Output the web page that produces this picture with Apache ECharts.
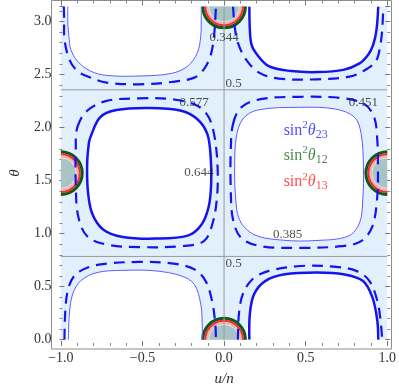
<!DOCTYPE html>
<html>
<head>
<meta charset="utf-8">
<script src="https://cdn.jsdelivr.net/npm/echarts@6/dist/echarts.min.js"></script>
<style>
  html, body { margin: 0; padding: 0; background: #fff; }
  #chart { width: 399px; height: 392px; }
</style>
</head>
<body>
<div id="chart"></div>
<script>
// contour curves of sin^2(theta23) as [u/n, theta]
const tlThin = [[-0.958, 3.1416], [-0.957, 2.969], [-0.949, 2.829], [-0.939, 2.736], [-0.899, 2.626], [-0.819, 2.533], [-0.72, 2.492], [-0.523, 2.486], [-0.322, 2.511], [-0.223, 2.579], [-0.164, 2.705], [-0.143, 2.86], [-0.14, 3.016], [-0.14, 3.1416]]
const tlDash = [[-0.982, 3.1416], [-0.98, 3.016], [-0.978, 2.829], [-0.948, 2.642], [-0.899, 2.533], [-0.819, 2.471], [-0.72, 2.424], [-0.521, 2.408], [-0.322, 2.43], [-0.183, 2.471], [-0.124, 2.549], [-0.084, 2.673], [-0.064, 2.829], [-0.054, 3.016], [-0.05, 3.1416]]
const trThick = [[0.155, 3.1416], [0.158, 2.922], [0.168, 2.782], [0.194, 2.705], [0.274, 2.579], [0.413, 2.533], [0.572, 2.523], [0.731, 2.544], [0.83, 2.605], [0.884, 2.689], [0.914, 2.782], [0.934, 2.922], [0.945, 3.1416]]
const trDash = [[0.055, 3.1416], [0.065, 2.953], [0.085, 2.798], [0.134, 2.642], [0.214, 2.518], [0.334, 2.462], [0.572, 2.455], [0.77, 2.48], [0.85, 2.53], [0.93, 2.626], [0.958, 2.782], [0.969, 2.922], [0.976, 3.1416]]
const blThin = [[-0.954, 0], [-0.948, 0.243], [-0.928, 0.43], [-0.879, 0.555], [-0.779, 0.633], [-0.62, 0.654], [-0.422, 0.649], [-0.263, 0.602], [-0.183, 0.523], [-0.143, 0.336], [-0.134, 0.15], [-0.134, 0]]
const blDash = [[-0.978, 0], [-0.974, 0.243], [-0.958, 0.462], [-0.918, 0.602], [-0.839, 0.679], [-0.72, 0.717], [-0.521, 0.733], [-0.322, 0.72], [-0.183, 0.664], [-0.114, 0.555], [-0.074, 0.368], [-0.054, 0.15], [-0.05, 0]]
const brThick = [[0.155, 0], [0.158, 0.243], [0.184, 0.43], [0.254, 0.555], [0.373, 0.617], [0.572, 0.633], [0.731, 0.617], [0.85, 0.555], [0.909, 0.399], [0.939, 0.181], [0.945, 0]]
const brDash = [[0.085, 0], [0.091, 0.243], [0.115, 0.43], [0.174, 0.57], [0.274, 0.649], [0.472, 0.695], [0.671, 0.689], [0.81, 0.649], [0.89, 0.555], [0.939, 0.368], [0.959, 0.181], [0.969, 0]]
const mlThick = [[-0.819, 1.91], [-0.76, 2.097], [-0.66, 2.165], [-0.462, 2.184], [-0.263, 2.159], [-0.165, 2.081], [-0.103, 1.941], [-0.082, 1.723], [-0.079, 1.474], [-0.094, 1.256], [-0.139, 1.084], [-0.223, 0.981], [-0.422, 0.953], [-0.62, 0.969], [-0.739, 1.037], [-0.809, 1.193], [-0.835, 1.411], [-0.839, 1.661], [-0.829, 1.848]]
const mlDash = [[-0.899, 2.004], [-0.839, 2.159], [-0.72, 2.252], [-0.521, 2.275], [-0.322, 2.268], [-0.164, 2.206], [-0.094, 2.097], [-0.058, 1.91], [-0.04, 1.63], [-0.043, 1.35], [-0.07, 1.1], [-0.124, 0.929], [-0.263, 0.882], [-0.521, 0.873], [-0.72, 0.897], [-0.839, 0.976], [-0.894, 1.163], [-0.909, 1.474], [-0.909, 1.785]]
const mrThin = [[0.075, 1.91], [0.115, 2.081], [0.204, 2.165], [0.462, 2.191], [0.681, 2.175], [0.8, 2.097], [0.84, 1.941], [0.854, 1.63], [0.85, 1.318], [0.83, 1.1], [0.76, 0.976], [0.562, 0.935], [0.363, 0.938], [0.184, 0.991], [0.095, 1.131], [0.069, 1.38], [0.065, 1.661]]
const mrDash = [[0.055, 2.035], [0.105, 2.191], [0.224, 2.268], [0.462, 2.29], [0.721, 2.278], [0.86, 2.221], [0.92, 2.097], [0.939, 1.879], [0.943, 1.63], [0.939, 1.35], [0.909, 1.069], [0.84, 0.929], [0.721, 0.882], [0.462, 0.866], [0.224, 0.882], [0.105, 0.96], [0.055, 1.131], [0.041, 1.411], [0.041, 1.785]]

// sin^2(theta12), sin^2(theta13) allowed spots
const spotCenters = [[0, 0], [0, 3.1416], [-1, 1.5708], [1, 1.5708]]
const spotRadius = 0.14

// sin^2(theta23) = 0.5 lines
const halfTheta = [0.785, 2.356]
const halfU = [0]

const contourLabels = ['0.344', '0.5', '0.577', '0.451', '0.644', '0.385', '0.5']
const labelAt = [[0, 2.848], [0.058, 2.418], [-0.183, 2.237], [0.854, 2.237], [-0.154, 1.577], [0.389, 0.991], [0.058, 0.717]]
const legendSubs = ['23', '12', '13']
const legendColors = ['#2020ff', '#1e6b1e', '#ff2020']

const serif = 'Liberation Serif, Times New Roman, serif'
const blue = '#1414f0'

const chart = echarts.init(document.getElementById('chart'))

function clipRect(params) {
  const c = params.coordSys
  return { type: 'rect', shape: { x: c.x, y: c.y, width: c.width, height: c.height } }
}

// one custom series per line style, drawn through the axes with api.coord
function curveSeries(curves, closed, style, z) {
  return {
    type: 'custom',
    coordinateSystem: 'cartesian2d',
    xAxisIndex: 0,
    yAxisIndex: 0,
    z: z,
    silent: true,
    data: curves.map(c => c[0]),
    renderItem: function (params, api) {
      const i = params.dataIndex
      const pts = curves[i].map(p => api.coord(p))
      return {
        type: 'group',
        clipPath: clipRect(params),
        children: [{
          type: closed[i] ? 'polygon' : 'polyline',
          shape: { points: pts, smooth: 0.35 },
          style: Object.assign({ fill: 'none' }, style)
        }]
      }
    }
  }
}

const fillCurves = [tlThin, trThick, blThin, brThick, mlThick, mrThin]

function frameAxis(extra) {
  return Object.assign({
    gridIndex: 0, type: 'value', interval: 0.5,
    axisLine: { show: false, onZero: false },
    axisTick: { inside: true, length: 5, lineStyle: { color: '#777' } },
    minorTick: { show: true, splitNumber: 5, length: 3, lineStyle: { color: '#888' } },
    splitLine: { show: false }
  }, extra)
}

const option = {
  animation: false,
  grid: [
    { left: 53, right: 10.5, top: 6.5, bottom: 49.3, show: true, backgroundColor: '#e2f0fd', borderWidth: 0 },
    { left: 51.5, right: 7.5, top: 0.5, bottom: 43, show: true, backgroundColor: 'transparent', borderColor: '#8c8c8c', borderWidth: 1 }
  ],
  xAxis: [
    frameAxis({
      position: 'bottom', min: -1, max: 1, offset: 6.3,
      axisLabel: {
        margin: 5, fontSize: 14, fontFamily: serif, color: '#333',
        formatter: v => v.toFixed(1).replace('-', '\u2212')
      },
      name: 'u/n', nameLocation: 'middle', nameGap: 26,
      nameTextStyle: { fontSize: 15, fontStyle: 'italic', fontFamily: serif, color: '#333' }
    }),
    frameAxis({ position: 'top', min: -1, max: 1, offset: 6, axisLabel: { show: false } }),
    { gridIndex: 1, type: 'value', show: false, min: 0, max: 1 }
  ],
  yAxis: [
    frameAxis({
      position: 'left', min: 0, max: Math.PI, offset: 1.5,
      axisLabel: {
        margin: 8, fontSize: 14, fontFamily: serif, color: '#333',
        formatter: v => (v > 3.05 ? '' : v.toFixed(1))
      },
      name: 'θ', nameLocation: 'middle', nameGap: 34,
      nameTextStyle: { fontSize: 15, fontStyle: 'italic', fontFamily: serif, color: '#333' }
    }),
    frameAxis({ position: 'right', min: 0, max: Math.PI, offset: 3, axisLabel: { show: false } }),
    { gridIndex: 1, type: 'value', show: false, min: 0, max: 1 }
  ],
  series: [
    // white inside the 0.385 / 0.644 contours
    curveSeries(fillCurves, [true, true, true, true, true, true], { fill: '#ffffff' }, 1),
    {
      type: 'custom',
      coordinateSystem: 'cartesian2d',
      xAxisIndex: 0,
      yAxisIndex: 0,
      z: 2,
      silent: true,
      data: spotCenters,
      renderItem: function (params, api) {
        const c = api.coord([api.value(0), api.value(1)])
        const r = api.size([spotRadius, 0])[0]
        const ring = (rr, w, col) => ({ type: 'circle', shape: { cx: c[0], cy: c[1], r: rr }, style: { fill: 'none', stroke: col, lineWidth: w } })
        return {
          type: 'group',
          clipPath: clipRect(params),
          children: [
            { type: 'circle', shape: { cx: c[0], cy: c[1], r: r - 1.5 }, style: { fill: '#a7c5c5' } },
            ring(r - 1.5, 3, '#0f5a18'),
            ring(r - 4, 2, '#ff2a2a'),
            ring(r - 6, 1.5, '#ffb0b0'),
            ring(r - 7.5, 1, '#ffdcdc')
          ]
        }
      }
    },
    {
      type: 'line', xAxisIndex: 0, yAxisIndex: 0, z: 3, silent: true, symbol: 'none',
      lineStyle: { color: '#9a9a9a', width: 1 },
      data: [[-1, halfTheta[0]], [1, halfTheta[0]], '-', [-1, halfTheta[1]], [1, halfTheta[1]], '-', [halfU[0], 0], [halfU[0], Math.PI]]
    },
    curveSeries([tlThin, blThin, mrThin], [false, false, true], { stroke: '#5c5cff', lineWidth: 1 }, 4),
    curveSeries([trThick, brThick, mlThick], [false, false, true], { stroke: blue, lineWidth: 2.5 }, 4),
    curveSeries([tlDash, trDash, blDash, brDash, mlDash, mrDash], [false, false, false, false, true, true],
      { stroke: blue, lineWidth: 2.2, lineDash: [11, 7] }, 4),
    {
      type: 'scatter', xAxisIndex: 0, yAxisIndex: 0, z: 5, silent: true, symbolSize: 0,
      data: contourLabels.map((t, i) => ({ name: t, value: labelAt[i] })),
      label: { show: true, position: 'inside', formatter: '{b}', fontSize: 13, fontFamily: serif, color: '#222' }
    },
    {
      type: 'scatter', xAxisIndex: 0, yAxisIndex: 0, z: 5, silent: true, symbolSize: 0,
      data: legendSubs.map((s, i) => ({ name: s, value: [0.5, [1.972, 1.738, 1.49][i]], label: { color: legendColors[i] } })),
      label: {
        show: true, position: 'inside',
        formatter: p => '{s|sin}{p|2}{t|θ}{b|' + p.name + '}',
        rich: {
          s: { fontSize: 16, fontFamily: serif },
          p: { fontSize: 11, fontFamily: serif, padding: [0, 0, 10, 0] },
          t: { fontSize: 16, fontFamily: serif, fontStyle: 'italic' },
          b: { fontSize: 12, fontFamily: serif, padding: [9, 0, 0, 0] }
        }
      }
    }
  ]
}

chart.setOption(option)
</script>
</body>
</html>
